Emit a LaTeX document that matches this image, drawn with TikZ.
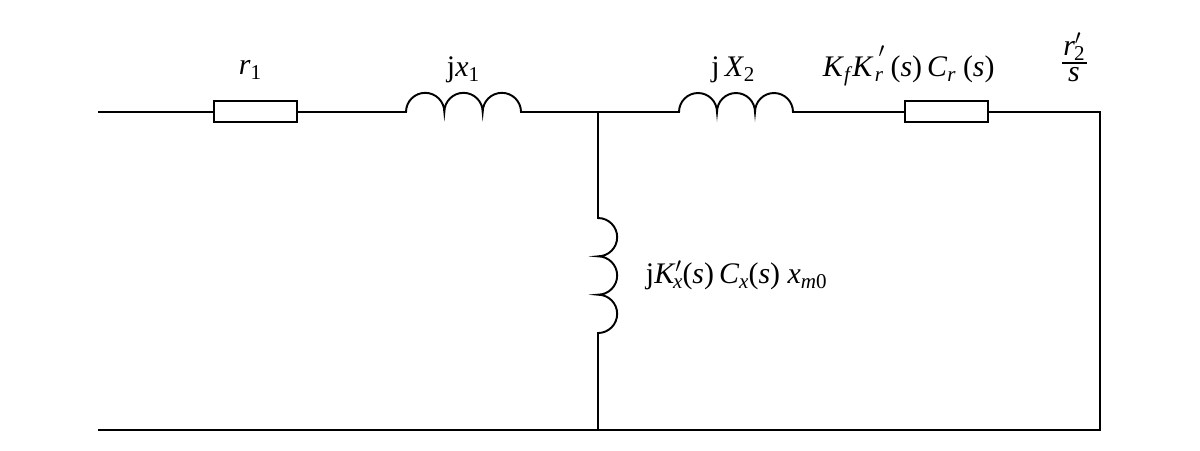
\documentclass[tikz,border=0pt]{standalone}
\usepackage{fontspec}
\setmainfont{Liberation Serif}
\begin{document}
\begin{tikzpicture}[x=0.02cm,y=-0.02cm,line width=1.1pt,
  lbl/.style={font=\fontsize{17}{20}\selectfont,inner sep=0pt},
  res/.style={draw,minimum width=83*0.02cm,minimum height=21*0.02cm,inner sep=0pt,fill=white}]
\useasboundingbox (0,0) rectangle (1200,450);
\coordinate (a) at (98,112);
\coordinate (b) at (598,112);
\coordinate (c) at (1100,112);
\coordinate (d) at (98,430);
\coordinate (e) at (598,430);
\coordinate (f) at (1100,430);
\coordinate (l1s) at (406,112);
\coordinate (l2s) at (679,112);
\coordinate (l3s) at (598,218);
\draw (a) -- (b) -- (c) -- (f) -- (d);
\draw (b) -- (e);
\node[res] (r1) at (255.5,111.5) {};
\node[res] (r2) at (946.5,111.5) {};
\fill[white] (407,110.5) rectangle (520,113.5);
\fill[white] (680,110.5) rectangle (792,113.5);
\fill[white] (596.5,219) rectangle (599.5,332);
\draw (l1s) arc(180:360:19.17) arc(180:360:19.17) arc(180:360:19.17);
\draw (l2s) arc(180:360:19) arc(180:360:19) arc(180:360:19);
\draw (l3s) arc(-90:90:19.17) arc(-90:90:19.17) arc(-90:90:19.17);
\node[lbl] (t1) at (250,70) {\textit{r}\raisebox{-0.35ex}{\fontsize{12}{14}\selectfont 1}};
\node[lbl] (t2) at (463,70) {j\textit{x}\raisebox{-0.35ex}{\fontsize{12}{14}\selectfont 1}};
\node[lbl] (t3) at (733,70) {j\,\textit{X}\raisebox{-0.35ex}{\fontsize{12}{14}\selectfont 2}};
\node[lbl,anchor=west] (t4) at (822,66) {\textit{K}\raisebox{-0.4ex}{\fontsize{12}{14}\selectfont\textit{f}}\textit{K}\,\raisebox{0.6ex}{$'$}\kern-0.35em\raisebox{-0.4ex}{\fontsize{12}{14}\selectfont\textit{r}}\ (\textit{s})\,\textit{C}\raisebox{-0.4ex}{\fontsize{12}{14}\selectfont\textit{r}}\ (\textit{s})};
\node[lbl] (num) at (1074,47) {\textit{r}$'$\kern-0.25em\raisebox{-0.35ex}{\fontsize{12}{14}\selectfont 2}};
\coordinate (fb1) at (1062,63);
\coordinate (fb2) at (1087,63);
\draw[line width=0.7pt] (fb1) -- (fb2);
\node[lbl] (den) at (1074,75) {\textit{s}};
\node[lbl,anchor=west] (t5) at (645,275) {j\textit{K}$'$\kern-0.3em\raisebox{-0.4ex}{\fontsize{12}{14}\selectfont\textit{x}}(\textit{s})\,\textit{C}\raisebox{-0.4ex}{\fontsize{12}{14}\selectfont\textit{x}}(\textit{s})\ \textit{x}\raisebox{-0.4ex}{\fontsize{12}{14}\selectfont\textit{m}0}};
\end{tikzpicture}
\end{document}
